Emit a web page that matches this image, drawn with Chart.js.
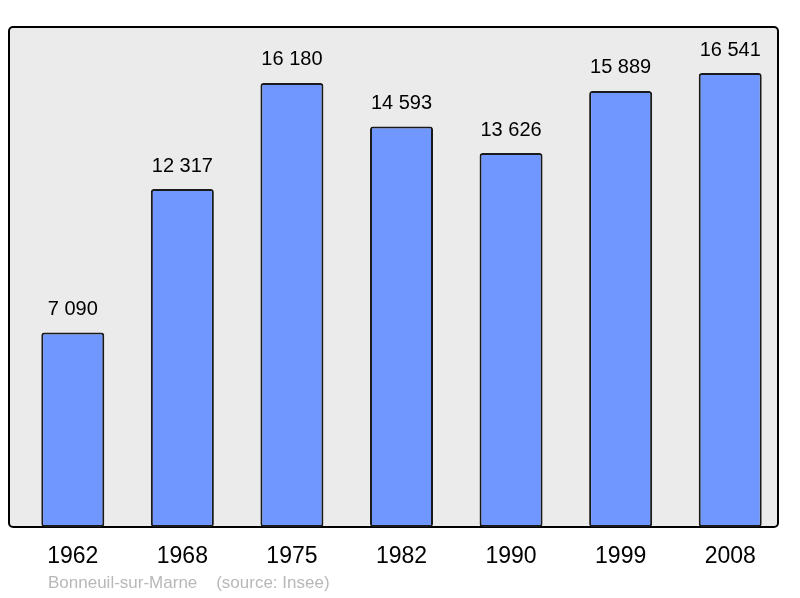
<!DOCTYPE html>
<html>
<head>
<meta charset="utf-8">
<script src="https://cdn.jsdelivr.net/npm/chart.js@4"></script>
<style>
  body { margin: 0; background: #fff; }
  #wrap { width: 800px; height: 598px; }
</style>
</head>
<body>
<div id="wrap"><canvas id="pop"></canvas></div>
<script>
const years = ['1962', '1968', '1975', '1982', '1990', '1999', '2008'];
const population = [7090, 12317, 16180, 14593, 13626, 15889, 16541];
const footerText = 'Bonneuil-sur-Marne    (source: Insee)';

// espace comme séparateur de milliers
const fmt = (n) => String(n).replace(/\B(?=(\d{3})+(?!\d))/g, ' ');

// fond gris avec bordure noire
const panel = {
  id: 'panel',
  beforeDraw(chart) {
    const { ctx, chartArea: a } = chart;
    const x0 = a.left - 9, x1 = a.right - 7;
    ctx.save();
    ctx.beginPath();
    ctx.roundRect(x0, a.top, x1 - x0, a.bottom - a.top, 4);
    ctx.fillStyle = '#ebebeb';
    ctx.fill();
    ctx.lineWidth = 2;
    ctx.strokeStyle = '#000';
    ctx.stroke();
    ctx.restore();
  }
};

// valeurs au-dessus des barres + source
const labels = {
  id: 'labels',
  afterDatasetsDraw(chart) {
    const ctx = chart.ctx;
    const meta = chart.getDatasetMeta(0);
    ctx.save();
    ctx.font = '20px "Liberation Sans", Arial, sans-serif';
    ctx.fillStyle = '#000';
    ctx.textAlign = 'center';
    ctx.textBaseline = 'middle';
    meta.data.forEach((bar, i) => {
      ctx.fillText(fmt(population[i]), bar.x, bar.y - 23);
    });
    ctx.font = '17px "Liberation Sans", Arial, sans-serif';
    ctx.fillStyle = '#b8b8b8';
    ctx.textAlign = 'left';
    ctx.fillText(footerText, 48, 583);
    ctx.restore();
  }
};

new Chart(document.getElementById('pop'), {
  type: 'bar',
  data: {
    labels: years,
    datasets: [{
      data: population,
      backgroundColor: '#7096ff',
      borderColor: '#1a1a1a',
      borderWidth: 2,
      borderRadius: 3,
      borderSkipped: false,
      barPercentage: 0.575,
      categoryPercentage: 1
    }]
  },
  options: {
    responsive: true,
    maintainAspectRatio: false,
    animation: false,
    layout: { padding: { left: 18, right: 15, top: 27, bottom: 11 } },
    plugins: { legend: { display: false }, tooltip: { enabled: false } },
    scales: {
      x: {
        grid: { display: false, drawTicks: false },
        border: { display: false },
        ticks: {
          color: '#000',
          padding: 16.2,
          font: { size: 23, family: '"Liberation Sans", Arial, sans-serif' }
        }
      },
      y: { display: false, min: 0, max: 18220 }
    }
  },
  plugins: [panel, labels]
});
</script>
</body>
</html>
